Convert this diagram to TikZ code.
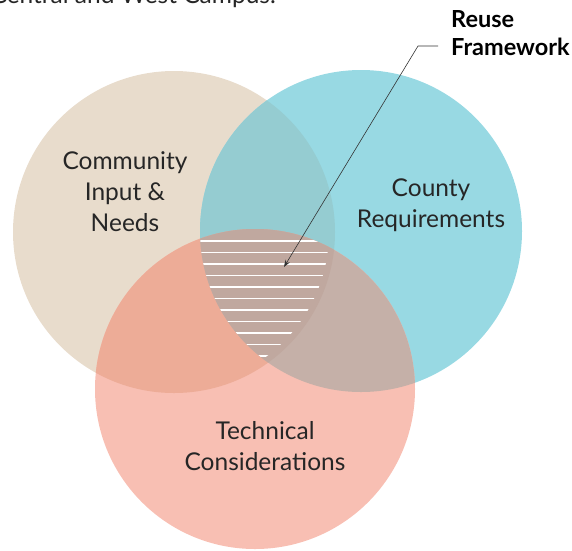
\documentclass[tikz,border=0pt]{standalone}
\usepackage{fontspec}
\setmainfont{Lato}
\usetikzlibrary{arrows.meta}
\definecolor{cA}{HTML}{E8DCCC}
\definecolor{cB}{HTML}{98D9E3}
\definecolor{cC}{HTML}{F8BFB3}
\definecolor{cAB}{HTML}{95CCD1}
\definecolor{cAC}{HTML}{EDAC97}
\definecolor{cBC}{HTML}{C5B0A8}
\definecolor{cABC}{HTML}{C0A89F}
\tikzset{
  lbl/.style={align=center, font=\fontsize{24.5}{31}\selectfont, text=black!85, inner sep=0pt},
  callout/.style={align=left, font=\fontsize{23.5}{28}\selectfont\bfseries, inner sep=0pt, anchor=base west},
  hatch/.style={white, line width=1.4pt},
  leader/.style={black!80, line width=0.6pt, -{Stealth[length=7pt,width=5pt]}}
}
\begin{document}
\begin{tikzpicture}[x=1pt,y=-1pt]
\useasboundingbox (0,0) rectangle (572,550);
\def\cA{(174,232) circle[radius=161pt]}
\def\cB{(361,231) circle[radius=161pt]}
\def\cC{(255,389) circle[radius=160pt]}
% base circles
\fill[cA] \cA;
\fill[cB] \cB;
\fill[cC] \cC;
% overlaps
\begin{scope}\clip \cA; \fill[cAB] \cB; \end{scope}
\begin{scope}\clip \cA; \fill[cAC] \cC; \end{scope}
\begin{scope}\clip \cB; \fill[cBC] \cC; \end{scope}
\begin{scope}\clip \cA; \clip \cB; \fill[cABC] \cC; \end{scope}
% hatching in triple overlap
\begin{scope}
\clip (174,232) circle[radius=155pt];
\clip (361,231) circle[radius=161pt];
\clip (255,389) circle[radius=160pt];
\foreach \k in {0,...,10} {
  \draw[hatch] (190,241+11.5*\k) -- (340,241+11.5*\k);
}
\end{scope}
% cut-off heading at top
\node[anchor=base east, font=\fontsize{24.5}{28}\selectfont, text=black!85, inner sep=0pt] (head) at (276,3) {Central and West Campus.};
% labels
\node[lbl] (comm) at (125,192) {Community\\Input \&\\Needs};
\node[lbl] (county) at (431,205) {County\\Requirements};
\node[lbl] (tech) at (265,446) {Technical\\Considerations};
% callout
\node[callout] (reuse) at (451,55) {Reuse\\Framework};
\coordinate (elbow) at (418,46);
\coordinate (tip) at (284,267);
\draw[leader] (reuse.west |- 0,46) ++(-13,0) -- (elbow) -- (tip);
\end{tikzpicture}
\end{document}
